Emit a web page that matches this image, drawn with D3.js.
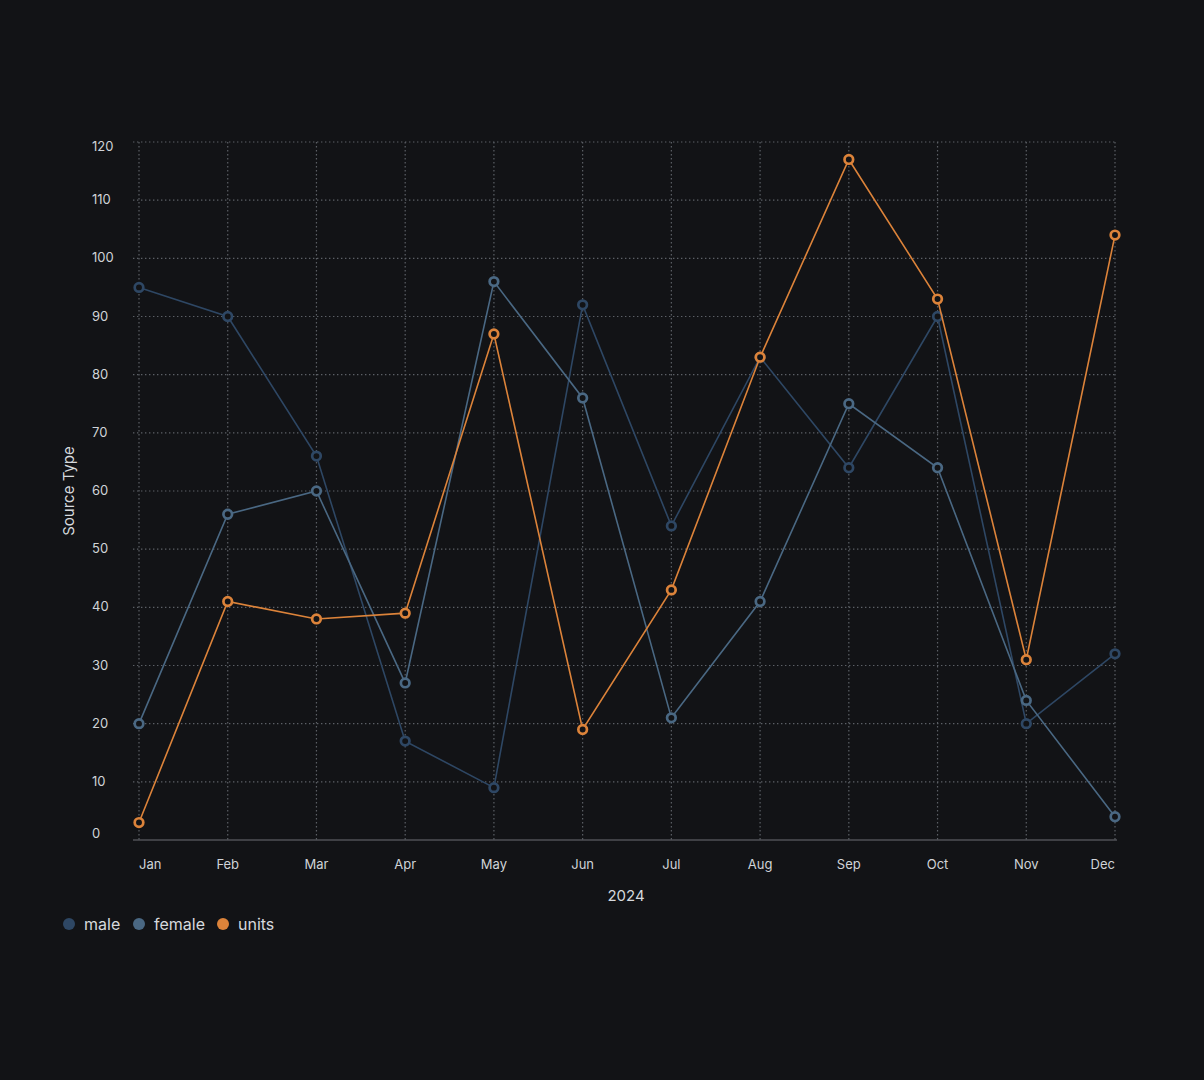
<!DOCTYPE html>
<html>
<head>
<meta charset="utf-8">
<script src="https://cdn.jsdelivr.net/npm/d3@7"></script>
<style>
  html, body { margin: 0; padding: 0; background: #121316; }
  svg { display: block; }
  text { font-family: Inter, "Noto Sans", sans-serif; }
</style>
</head>
<body>
<svg id="chart" width="1204" height="1080"></svg>
<script>
const months = ["Jan","Feb","Mar","Apr","May","Jun","Jul","Aug","Sep","Oct","Nov","Dec"];
const male   = [95, 90, 66, 17, 9, 92, 54, 83, 64, 90, 20, 32];
const female = [20, 56, 60, 27, 96, 76, 21, 41, 75, 64, 24, 4];
const units  = [3, 41, 38, 39, 87, 19, 43, 83, 117, 93, 31, 104];
const yTicks = [0, 10, 20, 30, 40, 50, 60, 70, 80, 90, 100, 110, 120];
const seriesNames = ["male", "female", "units"];
const seriesColors = ["#2e4764", "#4a6883", "#dc833a"];
const xTitle = "2024";
const yTitle = "Source Type";

const svg = d3.select("#chart");
const bg = "#121316";
svg.append("rect").attr("width", 1204).attr("height", 1080).attr("fill", bg);

const x = d3.scalePoint().domain(months).range([139, 1115]);
const y = d3.scaleLinear().domain([0, 120]).range([840, 142]);

const gridColor = "#5c6066";
// horizontal grid
svg.append("g").selectAll("line").data(yTicks.filter(d => d !== 0)).join("line")
  .attr("x1", 133).attr("x2", 1115)
  .attr("y1", d => y(d)).attr("y2", d => y(d))
  .attr("stroke", gridColor).attr("stroke-width", 1.2).attr("stroke-dasharray", "1.4,2.6");
// vertical grid
svg.append("g").selectAll("line").data(months).join("line")
  .attr("x1", d => x(d)).attr("x2", d => x(d))
  .attr("y1", y(120)).attr("y2", y(0))
  .attr("stroke", gridColor).attr("stroke-width", 1.2).attr("stroke-dasharray", "1.4,2.6");
// baseline
svg.append("line").attr("x1", 133).attr("x2", 1117).attr("y1", y(0)).attr("y2", y(0))
  .attr("stroke", "#6c6f75").attr("stroke-width", 1.2);

// y tick labels
svg.append("g").selectAll("text").data(yTicks).join("text")
  .attr("x", 92)
  .attr("y", d => y(d) + (d === 120 ? 4 : d === 0 ? -7 : -1))
  .attr("dominant-baseline", "central")
  .attr("fill", "#d0d3d8").attr("font-size", 13)
  .text(d => d);

// x tick labels
svg.append("g").selectAll("text").data(months).join("text")
  .attr("x", d => x(d))
  .attr("y", 864)
  .attr("dominant-baseline", "central")
  .attr("text-anchor", (d, i) => i === 0 ? "start" : i === months.length - 1 ? "end" : "middle")
  .attr("fill", "#d0d3d8").attr("font-size", 13)
  .text(d => d);

// axis titles
svg.append("text").attr("x", 626).attr("y", 895).attr("text-anchor", "middle")
  .attr("dominant-baseline", "central").attr("fill", "#d6d9dd").attr("font-size", 15).text(xTitle);
svg.append("text").attr("transform", "translate(68,491) rotate(-90)").attr("text-anchor", "middle")
  .attr("dominant-baseline", "central").attr("fill", "#d6d9dd").attr("font-size", 15).text(yTitle);

// series
const allSeries = [male, female, units];
const line = d3.line().x((d, i) => x(months[i])).y(d => y(d));
allSeries.forEach((vals, si) => {
  const g = svg.append("g");
  g.append("path").datum(vals).attr("d", line)
    .attr("fill", "none").attr("stroke", seriesColors[si]).attr("stroke-width", 1.6);
  g.selectAll("circle").data(vals).join("circle")
    .attr("cx", (d, i) => x(months[i])).attr("cy", d => y(d)).attr("r", 4.3)
    .attr("fill", bg).attr("stroke", seriesColors[si]).attr("stroke-width", 2.7);
});

// legend
const legendX = [69, 139, 223];
const lg = svg.append("g");
seriesNames.forEach((n, i) => {
  lg.append("circle").attr("cx", legendX[i]).attr("cy", 924).attr("r", 6).attr("fill", seriesColors[i]);
  lg.append("text").attr("x", legendX[i] + 15).attr("y", 924).attr("dominant-baseline", "central")
    .attr("fill", "#d6d9dd").attr("font-size", 16).text(n);
});
</script>
</body>
</html>
